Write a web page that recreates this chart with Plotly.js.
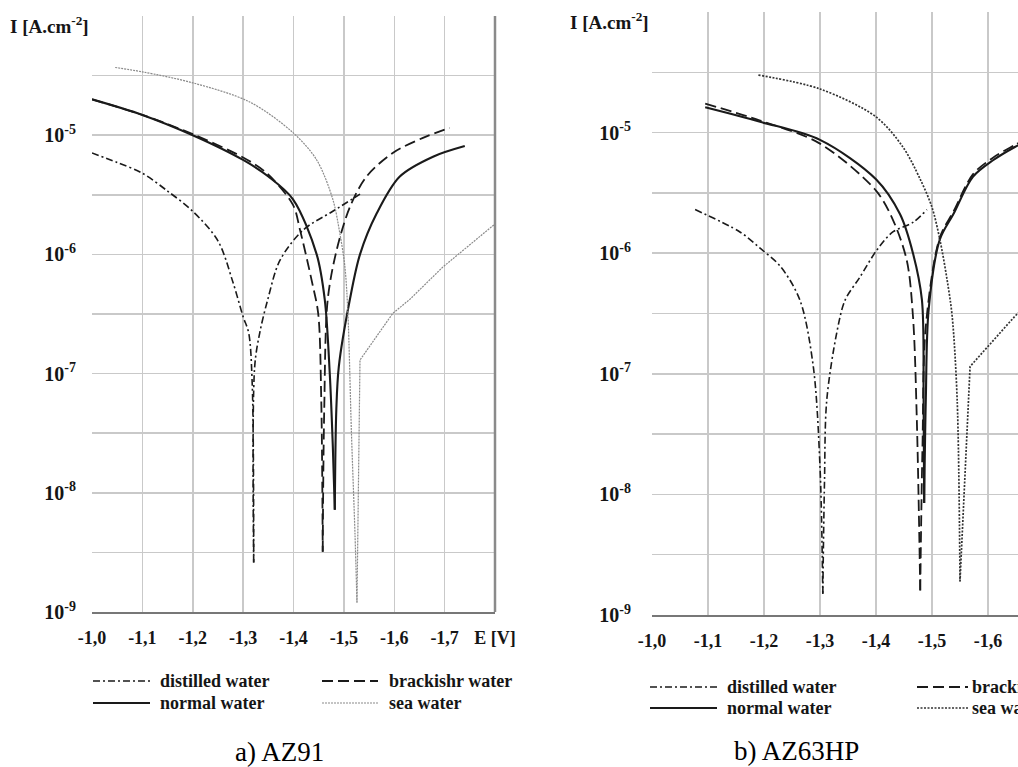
<!DOCTYPE html>
<html>
<head>
<meta charset="utf-8">
<script src="https://cdn.plot.ly/plotly-3.0.1.min.js"></script>
<style>
  html, body { margin: 0; padding: 0; overflow: hidden; background: #fff; }
  #chart { width: 1110px; height: 767px; }
</style>
</head>
<body>
<div id="chart"></div>
<script>
// ---------- data (E in V, I in A/cm2) ----------
// panel a) AZ91
const a_distilled_E = [-1.000, -1.050, -1.100, -1.150, -1.200, -1.250, -1.280, -1.300, -1.311, -1.318, -1.321, -1.323, -1.333, -1.349, -1.373, -1.419, -1.478, -1.532];
const a_distilled_I = [7.1e-6, 5.9e-6, 4.8e-6, 3.4e-6, 2.3e-6, 1.3e-6, 5.8e-7, 3.0e-7, 2.2e-7, 8.3e-8, 2.6e-9, 1.15e-7, 2.2e-7, 4.2e-7, 8.9e-7, 1.6e-6, 2.3e-6, 3.2e-6];

const a_brackish_E = [-1.000, -1.100, -1.200, -1.300, -1.347, -1.399, -1.413, -1.437, -1.449, -1.455, -1.458, -1.461, -1.468, -1.486, -1.512, -1.545, -1.597, -1.657, -1.710];
const a_brackish_I = [2.0e-5, 1.48e-5, 1.02e-5, 6.5e-6, 4.8e-6, 2.6e-6, 1.6e-6, 5.8e-7, 3.2e-7, 6.3e-8, 3.2e-9, 5.0e-8, 4.2e-7, 1.1e-6, 2.5e-6, 4.5e-6, 7.1e-6, 9.5e-6, 1.15e-5];

const a_normal_E = [-1.000, -1.100, -1.200, -1.300, -1.350, -1.399, -1.446, -1.462, -1.472, -1.478, -1.482, -1.485, -1.490, -1.512, -1.532, -1.565, -1.611, -1.677, -1.740];
const a_normal_I = [2.0e-5, 1.48e-5, 1.0e-5, 6.2e-6, 4.5e-6, 2.9e-6, 1.0e-6, 4.2e-7, 1.0e-7, 2.5e-8, 7.2e-9, 5.0e-8, 1.15e-7, 4.2e-7, 1.0e-6, 2.2e-6, 4.5e-6, 6.6e-6, 8.1e-6];

const a_sea_E = [-1.046, -1.100, -1.200, -1.313, -1.399, -1.446, -1.478, -1.492, -1.502, -1.508, -1.515, -1.522, -1.526, -1.529, -1.532, -1.597, -1.631, -1.696, -1.800];
const a_sea_I = [3.7e-5, 3.4e-5, 2.75e-5, 1.9e-5, 1.05e-5, 6.2e-6, 2.9e-6, 1.5e-6, 7.9e-7, 3.2e-7, 3.2e-8, 4.6e-9, 1.2e-9, 1.6e-8, 1.3e-7, 3.2e-7, 4.2e-7, 7.8e-7, 1.8e-6];

// panel b) AZ63HP
const b_distilled_E = [-1.077, -1.157, -1.193, -1.229, -1.264, -1.288, -1.300, -1.305, -1.308, -1.312, -1.330, -1.345, -1.371, -1.402, -1.430, -1.466, -1.491];
const b_distilled_I = [2.3e-6, 1.5e-6, 1.1e-6, 7.8e-7, 4.1e-7, 1.15e-7, 1.7e-8, 1.5e-9, 1.26e-8, 6.0e-8, 2.2e-7, 4.1e-7, 6.3e-7, 1.07e-6, 1.5e-6, 1.8e-6, 2.3e-6];

const b_brackish_E = [-1.095, -1.193, -1.300, -1.400, -1.430, -1.455, -1.466, -1.473, -1.479, -1.483, -1.489, -1.514, -1.538, -1.573, -1.609, -1.648, -1.660];
const b_brackish_I = [1.74e-5, 1.26e-5, 8.1e-6, 3.3e-6, 1.9e-6, 8.7e-7, 3.0e-7, 4.0e-8, 1.6e-9, 2.5e-8, 2.5e-7, 1.35e-6, 2.2e-6, 4.5e-6, 6.2e-6, 7.9e-6, 8.5e-6];

const b_normal_E = [-1.095, -1.193, -1.300, -1.400, -1.443, -1.466, -1.482, -1.485, -1.486, -1.489, -1.494, -1.514, -1.538, -1.573, -1.609, -1.648, -1.660];
const b_normal_I = [1.62e-5, 1.23e-5, 8.7e-6, 4.1e-6, 2.1e-6, 1.0e-6, 4.1e-7, 6.3e-8, 8.5e-9, 6.3e-8, 3.4e-7, 1.3e-6, 2.1e-6, 4.3e-6, 5.9e-6, 7.6e-6, 8.1e-6];

const b_sea_E = [-1.190, -1.300, -1.400, -1.448, -1.479, -1.500, -1.514, -1.527, -1.536, -1.545, -1.550, -1.560, -1.568, -1.648, -1.660];
const b_sea_I = [3.0e-5, 2.3e-5, 1.35e-5, 7.6e-6, 4.1e-6, 2.4e-6, 1.3e-6, 6.0e-7, 3.0e-7, 6.0e-8, 1.9e-9, 1.6e-8, 1.15e-7, 3.0e-7, 3.4e-7];

// ---------- ticks / labels ----------
const xTickVals = [-1.0, -1.1, -1.2, -1.3, -1.4, -1.5, -1.6, -1.7, -1.8];
const xTickText = ['-1,0', '-1,1', '-1,2', '-1,3', '-1,4', '-1,5', '-1,6', '-1,7', 'E [V]'];
const yTickExp = [-9, -8.5, -8, -7.5, -7, -6.5, -6, -5.5, -5, -4.5, -4];
const yTickText = ['10<sup>-9</sup>', '', '10<sup>-8</sup>', '', '10<sup>-7</sup>', '', '10<sup>-6</sup>', '', '10<sup>-5</sup>', '', ''];
const seriesNames = ['distilled water', 'brackishr water', 'normal water', 'sea water'];
const panelCaptions = ['a) AZ91', 'b) AZ63HP'];
const yTitle = 'I [A.cm<sup>-2</sup>]';

// ---------- layout helpers ----------
const W = 1110, H = 767;
const PX = v => v / W;
const PY = v => 1 - v / H;
const SERIF = 'Liberation Serif, Times New Roman, serif';
const ink = '#151515';

const styles = {
  distilled: {color: '#1a1a1a', width: 1.6, dash: '7px,3px,2px,3px'},
  brackish:  {color: '#1a1a1a', width: 1.8, dash: '11px,5px'},
  normal:    {color: '#1a1a1a', width: 2.1, dash: 'solid'},
  seaA:      {color: '#8a8a8a', width: 1.2, dash: '2px,1px'},
  seaB:      {color: '#333333', width: 1.7, dash: '2px,1.5px'}
};

// each polarisation curve is drawn as two smooth branches split at its minimum current
const data = [];
function addSeries(E, I, style, xa, ya, name, anodicShape) {
  let k = 0;
  for (let i = 1; i < I.length; i++) if (I[i] < I[k]) k = i;
  const parts = [[0, k + 1, 'spline'], [k, I.length, anodicShape || 'spline']];
  parts.forEach(p => {
    data.push({x: E.slice(p[0], p[1]), y: I.slice(p[0], p[1]), type: 'scatter', mode: 'lines', name: name,
               xaxis: xa, yaxis: ya, line: Object.assign({shape: p[2], smoothing: 0.9}, style),
               showlegend: false, hoverinfo: 'x+y+name'});
  });
}
addSeries(a_distilled_E, a_distilled_I, styles.distilled, 'x', 'y', seriesNames[0]);
addSeries(a_brackish_E, a_brackish_I, styles.brackish, 'x', 'y', seriesNames[1]);
addSeries(a_normal_E, a_normal_I, styles.normal, 'x', 'y', seriesNames[2]);
addSeries(a_sea_E, a_sea_I, styles.seaA, 'x', 'y', seriesNames[3], 'linear');
addSeries(b_distilled_E, b_distilled_I, styles.distilled, 'x2', 'y2', seriesNames[0]);
addSeries(b_brackish_E, b_brackish_I, styles.brackish, 'x2', 'y2', seriesNames[1]);
addSeries(b_normal_E, b_normal_I, styles.normal, 'x2', 'y2', seriesNames[2]);
addSeries(b_sea_E, b_sea_I, styles.seaB, 'x2', 'y2', seriesNames[3], 'linear');

const gridColor = '#c9c9c9';
function xAxis(domain, anchor) {
  return {domain: domain, anchor: anchor, range: [-1.0, -1.8], tickmode: 'array',
          tickvals: xTickVals, ticktext: xTickText, showgrid: true, gridcolor: gridColor, gridwidth: 1.5,
          zeroline: false, showline: true, linecolor: '#777', linewidth: 2, ticks: '',
          ticklabelstandoff: 8,
          tickfont: {family: SERIF, size: 18, weight: 'bold', color: ink}};
}
function yAxis(domain, anchor, standoff) {
  return {domain: domain, anchor: anchor, type: 'log', range: [-9, -4], tickmode: 'array',
          tickvals: yTickExp.map(e => Math.pow(10, e)), ticktext: yTickText,
          showgrid: true, gridcolor: gridColor, gridwidth: 1.5, zeroline: false, showline: false,
          ticks: '', ticklabelstandoff: standoff,
          tickfont: {family: SERIF, size: 20, weight: 'bold', color: ink}};
}

// legend samples and labels (drawn manually)
const shapes = [
  {type: 'line', xref: 'x domain', yref: 'y domain', x0: 1, x1: 1, y0: 0, y1: 1, line: {color: '#8a8a8a', width: 2.5}},
  {type: 'line', xref: 'x2 domain', yref: 'y2 domain', x0: 1, x1: 1, y0: 0, y1: 1, line: {color: '#8a8a8a', width: 2.5}}
];
const annotations = [];
function legendItem(x0, x1, y, style, textX, label) {
  shapes.push({type: 'line', xref: 'paper', yref: 'paper', x0: PX(x0), x1: PX(x1), y0: PY(y), y1: PY(y),
               line: {color: style.color, width: style.width, dash: style.dash}});
  annotations.push({xref: 'paper', yref: 'paper', x: PX(textX), y: PY(y), xanchor: 'left', yanchor: 'middle',
                    text: label, showarrow: false, font: {family: SERIF, size: 18, weight: 'bold', color: ink}});
}
legendItem(93, 153, 681, styles.distilled, 158, seriesNames[0]);
legendItem(322, 378, 681, styles.brackish, 387, seriesNames[1]);
legendItem(93, 150, 703, styles.normal, 158, seriesNames[2]);
legendItem(322, 378, 703, styles.seaA, 387, seriesNames[3]);
legendItem(650, 717, 687, styles.distilled, 725, seriesNames[0]);
legendItem(917, 968, 687, styles.brackish, 970, seriesNames[1]);
legendItem(650, 717, 708, styles.normal, 725, seriesNames[2]);
legendItem(917, 968, 708, styles.seaB, 970, seriesNames[3]);

annotations.push({xref: 'paper', yref: 'paper', x: PX(91), y: PY(25), xanchor: 'right', yanchor: 'middle',
                  text: yTitle, showarrow: false, font: {family: SERIF, size: 19, weight: 'bold', color: ink}});
annotations.push({xref: 'paper', yref: 'paper', x: PX(651), y: PY(21), xanchor: 'right', yanchor: 'middle',
                  text: yTitle, showarrow: false, font: {family: SERIF, size: 19, weight: 'bold', color: ink}});
annotations.push({xref: 'paper', yref: 'paper', x: PX(279), y: PY(752), xanchor: 'center', yanchor: 'middle',
                  text: panelCaptions[0], showarrow: false, font: {family: SERIF, size: 27, color: '#000'}});
annotations.push({xref: 'paper', yref: 'paper', x: PX(796), y: PY(751), xanchor: 'center', yanchor: 'middle',
                  text: panelCaptions[1], showarrow: false, font: {family: SERIF, size: 27, color: '#000'}});

const layout = {
  width: W, height: H,
  margin: {l: 0, r: 0, t: 0, b: 0},
  paper_bgcolor: '#fff', plot_bgcolor: '#fff',
  showlegend: false,
  xaxis: xAxis([PX(92), PX(495)], 'y'),
  yaxis: yAxis([1 - 612 / H, 1 - 16 / H], 'x', 15),
  xaxis2: xAxis([PX(652), PX(1100)], 'y2'),
  yaxis2: yAxis([1 - 615 / H, 1 - 12 / H], 'x2', 20),
  shapes: shapes,
  annotations: annotations
};

Plotly.newPlot('chart', data, layout, {displayModeBar: false, staticPlot: true});
</script>
</body>
</html>
